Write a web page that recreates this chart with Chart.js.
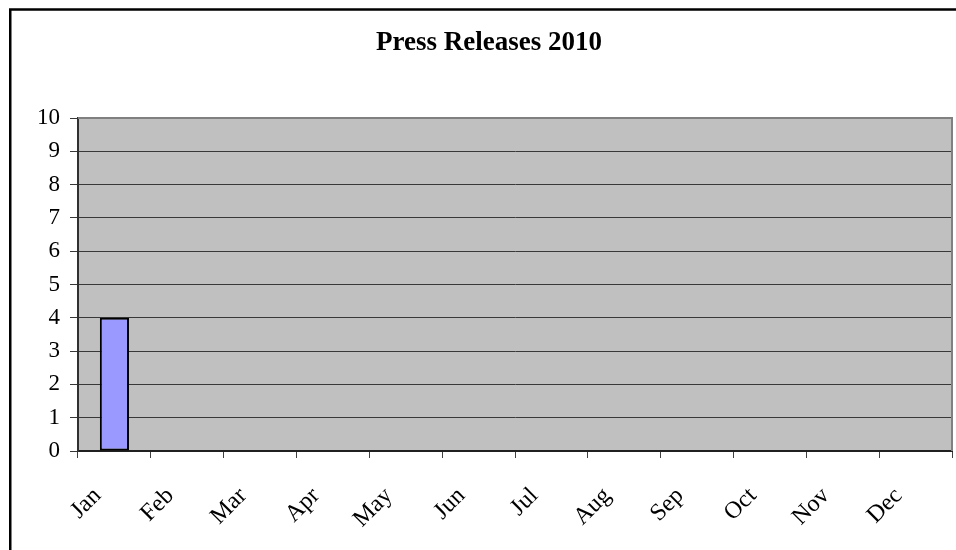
<!DOCTYPE html>
<html>
<head>
<meta charset="utf-8">
<script src="https://cdn.jsdelivr.net/npm/chart.js@4.4.1/dist/chart.umd.min.js"></script>
<style>
  html, body { margin: 0; padding: 0; background: #fff; overflow: hidden; }
</style>
</head>
<body>
<canvas id="pressChart" width="956" height="550"></canvas>
<script>
/* --------------- Data --------------------- */
const months = ["Jan", "Feb", "Mar", "Apr", "May", "Jun", "Jul", "Aug", "Sep", "Oct", "Nov", "Dec"];
const releases = [4, 0, 0, 0, 0, 0, 0, 0, 0, 0, 0, 0];
const chartTitle = "Press Releases 2010";

const serif = "'Liberation Serif', 'Times New Roman', serif";

/* --------------- Frame + gray plot area --------------------- */
const excelLook = {
  id: "excelLook",
  beforeDraw(chart) {
    const { ctx, chartArea: a } = chart;
    ctx.save();
    ctx.fillStyle = "#ffffff";
    ctx.fillRect(0, 0, chart.width, chart.height);
    ctx.fillStyle = "#c0c0c0";
    ctx.fillRect(a.left, a.top, a.right - a.left, a.bottom - a.top);
    ctx.restore();
  },
  beforeDatasetsDraw(chart) {
    const { ctx, chartArea: a } = chart;
    ctx.save();
    ctx.strokeStyle = "#808080";
    ctx.lineWidth = 2;
    ctx.beginPath();
    ctx.moveTo(a.left, a.top);
    ctx.lineTo(a.right, a.top);
    ctx.lineTo(a.right, a.bottom);
    ctx.stroke();
    ctx.restore();
  },
  afterDraw(chart) {
    const ctx = chart.ctx;
    ctx.save();
    ctx.strokeStyle = "#000";
    ctx.lineWidth = 2.5;
    ctx.strokeRect(10.25, 9.5, 1000, 600);
    ctx.restore();
  },
};

new Chart(document.getElementById("pressChart"), {
  type: "bar",
  plugins: [excelLook],
  data: {
    labels: months,
    datasets: [
      {
        data: releases,
        backgroundColor: "#9999ff",
        borderColor: "#000",
        borderWidth: (c) => (c.raw ? 2 : 0),
        borderSkipped: false,
        barPercentage: 0.4,
        categoryPercentage: 1,
      },
    ],
  },
  options: {
    responsive: false,
    animation: false,
    layout: { padding: { left: 26, right: 4, top: 0, bottom: 0 } },
    plugins: {
      legend: { display: false },
      tooltip: { enabled: false },
      title: {
        display: true,
        text: chartTitle,
        color: "#000",
        font: { family: serif, size: 27, weight: "bold" },
        padding: { top: 27, bottom: 58.6 },
      },
    },
    scales: {
      x: {
        afterFit: (s) => {
          s.height = 99;
          s.paddingLeft = 0;
          s.paddingRight = 0;
        },
        grid: { display: true, drawOnChartArea: false, drawTicks: true, tickLength: 7, color: "#404040", offset: true },
        border: { display: true, color: "#202020", width: 2 },
        ticks: {
          color: "#000",
          font: { family: serif, size: 24 },
          minRotation: 45,
          maxRotation: 45,
          padding: 24,
          labelOffset: -17,
          autoSkip: false,
        },
      },
      y: {
        min: 0,
        max: 10,
        afterFit: (s) => { s.width = 52; },
        grid: { color: "#383838", lineWidth: 1, tickLength: 8 },
        border: { display: true, color: "#303030", width: 2 },
        ticks: {
          stepSize: 1,
          color: "#000",
          padding: 10,
          font: { family: serif, size: 23 },
        },
      },
    },
  },
});
</script>
</body>
</html>
